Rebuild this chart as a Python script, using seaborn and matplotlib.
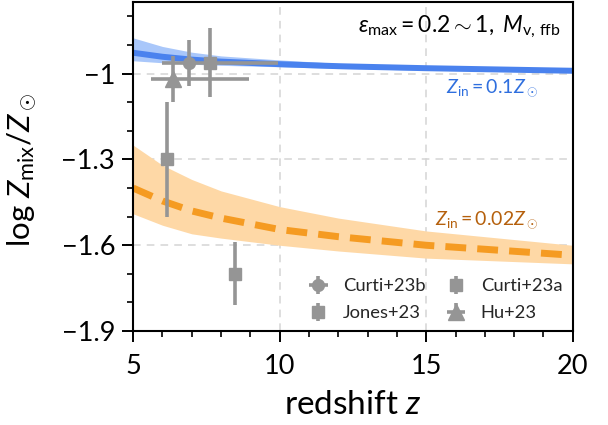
import numpy as np
import pandas as pd
import matplotlib
matplotlib.use("Agg")
import matplotlib.pyplot as plt
from matplotlib.ticker import MultipleLocator, FixedLocator
import seaborn as sns

# Model curves: mixed metallicity vs redshift for two inflow metallicities
z_grid = [5, 6, 7, 8, 10, 12, 15, 20]
hi_mid = [-0.927, -0.941, -0.951, -0.958, -0.967, -0.974, -0.981, -0.990]
hi_up = [-0.875, -0.905, -0.925, -0.938, -0.952, -0.964, -0.975, -0.985]
hi_lo = [-0.955, -0.962, -0.967, -0.971, -0.976, -0.982, -0.988, -0.995]

lo_mid = [-1.400, -1.445, -1.480, -1.505, -1.545, -1.570, -1.600, -1.635]
lo_up = [-1.250, -1.320, -1.370, -1.410, -1.465, -1.505, -1.550, -1.600]
lo_lo = [-1.490, -1.530, -1.560, -1.575, -1.600, -1.620, -1.645, -1.665]

# Observations
curti23b_z = [6.9]
curti23b_y = [-0.962]
curti23b_xerr = [[0.9], [3.05]]
curti23b_yerr = [0.08]

jones23_z = [7.63]
jones23_y = [-0.962]
jones23_yerr = [0.12]

curti23a_z = [6.16, 8.48]
curti23a_y = [-1.30, -1.70]
curti23a_yerr = [0.20, 0.11]

hu23_z = [6.37]
hu23_y = [-1.02]
hu23_xerr = [[0.76], [2.6]]
hu23_yerr = [0.08]

sns.set_theme(style="ticks")
plt.rcParams["font.family"] = ["Lato", "DejaVu Sans"]
plt.rcParams["mathtext.fontset"] = "custom"
plt.rcParams["mathtext.rm"] = "Lato"
plt.rcParams["mathtext.it"] = "Lato:italic"
plt.rcParams["mathtext.bf"] = "Lato:bold"

blue = "#4a82ee"
blue_band = "#a9c7fa"
orange = "#f59b22"
orange_band = "#fed8a6"
gray = "#959595"

fig = plt.figure(figsize=(6.08, 4.25), dpi=100)
ax = fig.add_axes([0.219, 0.221, 0.723, 0.774])

df_hi = pd.DataFrame({"z": z_grid, "y": hi_mid})
df_lo = pd.DataFrame({"z": z_grid, "y": lo_mid})

ax.fill_between(z_grid, hi_lo, hi_up, color=blue_band, lw=0, zorder=1)
sns.lineplot(data=df_hi, x="z", y="y", ax=ax, color=blue, lw=4.3, zorder=2)
ax.fill_between(z_grid, lo_lo, lo_up, color=orange_band, lw=0, zorder=1)
sns.lineplot(data=df_lo, x="z", y="y", ax=ax, color=orange, lw=5, zorder=2,
             dashes=False)
ax.lines[-1].set_dashes((3, 1.6))
ax.lines[-1].set_dash_capstyle("butt")

ekw = dict(color=gray, ecolor=gray, elinewidth=2.6, capsize=0, ls="none", zorder=5)
ax.errorbar(curti23b_z, curti23b_y, xerr=curti23b_xerr, yerr=curti23b_yerr,
            marker="o", ms=8.5, label="Curti+23b", **ekw)
ax.errorbar(jones23_z, jones23_y, yerr=jones23_yerr,
            marker="s", ms=8, label="Jones+23", **ekw)
ax.errorbar(curti23a_z, curti23a_y, yerr=curti23a_yerr,
            marker="s", ms=8, label="Curti+23a", **ekw)
ax.errorbar(hu23_z, hu23_y, xerr=hu23_xerr, yerr=hu23_yerr,
            marker="^", ms=11.5, label="Hu+23", **ekw)

ax.set_xlim(5, 20)
ax.set_ylim(-1.9, -0.75)
ax.xaxis.set_major_locator(FixedLocator([5, 10, 15, 20]))
ax.xaxis.set_minor_locator(MultipleLocator(1))
ax.yaxis.set_major_locator(FixedLocator([-1.9, -1.6, -1.3, -1.0]))
ax.yaxis.set_minor_locator(FixedLocator(np.round(np.arange(-1.9, -0.75, 0.1), 2)))
ax.set_xticklabels(["5", "10", "15", "20"])
ax.set_yticklabels(["\u22121.9", "\u22121.6", "\u22121.3", "\u22121"])

ax.tick_params(which="major", length=8, width=1.4, labelsize=19.5, color="black",
               labelcolor="black")
ax.tick_params(axis="x", which="major", pad=8.5)
ax.tick_params(axis="y", which="major", pad=5)
ax.tick_params(which="minor", length=4.2, width=1.2, color="black")
for s in ax.spines.values():
    s.set_linewidth(1.5)
    s.set_color("black")

ax.grid(True, which="major", ls=(0, (5, 4)), color="#d4d4d4", lw=1.1, zorder=0)
ax.set_axisbelow(True)

ax.set_xlabel("redshift $z$", fontsize=24, labelpad=8, color="black")
ax.set_ylabel(r"log $Z_{\rm mix}/Z_\odot$", fontsize=22.5, color="black")
ax.yaxis.set_label_coords(-0.215, 0.49)

ax.text(0.972, 0.925, r"$\varepsilon_{\rm max}=0.2\sim1,\ M_{\rm v,\,ffb}$",
        transform=ax.transAxes, ha="right", va="center", fontsize=16.5, color="black")
ax.text(0.816, 0.739, r"$Z_{\rm in}=0.1Z_\odot$", transform=ax.transAxes,
        ha="center", va="center", fontsize=14, color="#2f6fde")
ax.text(0.805, 0.34, r"$Z_{\rm in}=0.02Z_\odot$", transform=ax.transAxes,
        ha="center", va="center", fontsize=14, color="#b5600c")

ax.legend(ncol=2, loc="lower right", bbox_to_anchor=(1.014, -0.021), frameon=False,
          fontsize=13.2, handletextpad=0.6, columnspacing=0.9, handlelength=1.5,
          labelspacing=0.6)

fig.savefig("out.png", dpi=100)
